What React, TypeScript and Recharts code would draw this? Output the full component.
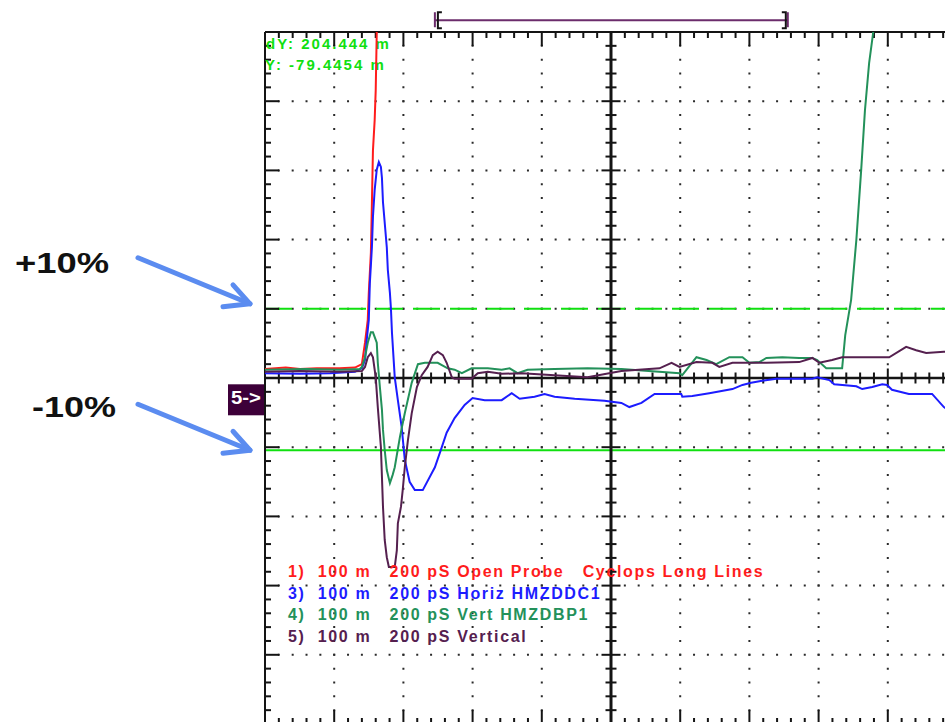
import { LineChart, Line, XAxis, YAxis, CartesianGrid, ReferenceLine, Legend } from "recharts";

// graticule: 10 x 10 divisions, 200 ps/div and 100 mV/div (ch5 offset -25 mV)
const X_DIVS = [0, 200, 400, 600, 800, 1000, 1200, 1400, 1600, 1800, 2000];
const Y_DIVS = [-475, -375, -275, -175, -75, 25, 125, 225, 325, 425, 525];
const X_MID = 1000;
const Y_MID = 25;
const X_MIN = 0;
const X_MAX = 2000;
const Y_MIN = -475;
const Y_MAX = 525;

const VOLTS_DIV = "100 m";
const TIME_DIV = "200 pS";

// cursor readouts (mV)
const CURSOR_Y = -79.4454;
const CURSOR_DY = 204.444;
const CURSOR_TOP = CURSOR_Y + CURSOR_DY;

// record window marker above the screen
const WINDOW_START = 491;
const WINDOW_END = 1511;
const WINDOW_LEVEL = 542;

// ch1 - open probe
const ch1Time = [0, 60, 101, 150, 216, 260, 280, 289, 297, 300, 306, 309, 312, 317, 320, 323, 340, 400, 2000];
const ch1Volts = [38, 40, 38, 39, 39, 40, 45, 76, 109, 148, 206, 278, 354, 398, 441, 525, 725, 925, 975];

// ch3 - Horiz HMZDDC1
const ch3Time = [
  0, 101, 188, 260, 280, 289, 294, 300, 303, 309, 312, 317, 323, 329, 335, 338, 341, 352, 355, 361,
  364, 367, 375, 384, 395, 404, 418, 433, 456, 491, 511, 525, 548, 577, 600, 635, 684, 713, 736, 779,
  808, 837, 895, 981, 1030, 1053, 1088, 1126, 1203, 1206, 1235, 1284, 1351, 1380, 1405, 1437, 1478, 1582, 1596, 1631,
  1645, 1709, 1726, 1755, 1784, 1798, 1812, 1861, 1928, 1962, 2000,
];
const ch3Volts = [
  32, 31, 32, 34, 39, 51, 80, 109, 162, 214, 258, 297, 326, 337, 330, 314, 279, 214, 181, 148,
  125, 90, 26, -7, -46, -93, -125, -137, -137, -104, -75, -54, -33, -14, -4, -7, -7, 3, -5, -2,
  2, -2, -5, -8, -11, -17, -11, 2, 2, -2, -1, 3, 9, 15, 18, 21, 24, 24, 26, 22,
  16, 13, 9, 12, 16, 15, 8, 2, 2, -17, -28,
];

// ch4 - Vert HMZDBP1
const ch4Time = [
  0, 120, 216, 274, 280, 289, 297, 306, 312, 323, 326, 332, 338, 341, 346, 352, 361, 369, 375, 390,
  404, 424, 442, 462, 499, 528, 548, 569, 597, 644, 684, 707, 730, 759, 837, 932, 1030, 1198, 1206, 1247,
  1276, 1304, 1342, 1380, 1400, 1429, 1449, 1495, 1544, 1582, 1596, 1622, 1659, 1668, 1677, 1694, 1709, 1723, 1734, 1746,
  1758, 1800, 2000,
];
const ch4Volts = [
  37, 38, 37, 38, 41, 55, 76, 91, 91, 76, 47, 12, -21, -50, -79, -108, -127, -115, -104, -60,
  -26, 18, 45, 47, 47, 39, 37, 32, 39, 39, 37, 39, 32, 37, 38, 39, 38, 32, 29, 55,
  51, 45, 55, 55, 47, 48, 54, 55, 54, 54, 51, 39, 39, 39, 87, 138, 224, 325, 412, 480,
  525, 725, 925,
];

// ch5 - Vertical
const ch5Time = [
  0, 100, 216, 280, 289, 297, 306, 312, 320, 326, 335, 341, 346, 352, 358, 375, 381, 384, 393, 398,
  404, 413, 424, 439, 453, 470, 485, 499, 514, 525, 540, 548, 597, 615, 644, 684, 742, 837, 932, 1030,
  1140, 1175, 1198, 1247, 1293, 1313, 1351, 1449, 1544, 1582, 1602, 1639, 1668, 1804, 1853, 1882, 1911, 1962, 2000,
];
const ch5Volts = [
  34, 35, 34, 35, 41, 55, 61, 55, 26, -17, -75, -161, -209, -234, -248, -248, -224, -185, -161, -137,
  -104, -65, -26, 12, 29, 41, 58, 63, 58, 47, 26, 24, 24, 32, 34, 31, 32, 29, 26, 35,
  39, 47, 41, 48, 47, 41, 47, 47, 48, 54, 47, 51, 55, 55, 70, 65, 61, 63, 63,
];

const toPoints = (t: number[], v: number[]) => t.map((x, i) => ({ t: x, v: v[i] }));

const SERIES = [
  { ch: 1, label: "Open Probe   Cyclops Long Lines", color: "#ff1c1c", data: toPoints(ch1Time, ch1Volts) },
  { ch: 3, label: "Horiz HMZDDC1", color: "#1c1cff", data: toPoints(ch3Time, ch3Volts) },
  { ch: 4, label: "Vert HMZDBP1", color: "#23915a", data: toPoints(ch4Time, ch4Volts) },
  { ch: 5, label: "Vertical", color: "#55204f", data: toPoints(ch5Time, ch5Volts) },
];

const FONT = "'Liberation Sans', Arial, sans-serif";
const ARROW = "#5b8cf0";
const CURSOR_GREEN = "#10e010";

// solid graticule line with its 1/5 division ticks (dir 0 = ticks both sides)
function Graticule(props: any) {
  const { x1, y1, x2, y2, dir, weight } = props;
  const vertical = Math.abs(x1 - x2) < 0.5;
  const start = vertical ? y1 : x1;
  const len = vertical ? y2 - y1 : x2 - x1;
  const ticks = [];
  for (let i = 0; i <= 50; i++) {
    const p = start + (len * i) / 50;
    const major = i % 5 === 0;
    let a = 0;
    let b = 0;
    if (dir === 0) {
      a = major ? -9.5 : -5.5;
      b = -a;
    } else {
      b = (major ? 14 : 6) * dir;
    }
    ticks.push(
      vertical ? (
        <line key={i} x1={x1 + a} x2={x1 + b} y1={p} y2={p} />
      ) : (
        <line key={i} x1={p} x2={p} y1={y1 + a} y2={y1 + b} />
      )
    );
  }
  return (
    <g stroke="#141414">
      <line x1={x1} y1={y1} x2={x2} y2={y2} strokeWidth={weight} />
      <g strokeWidth={2}>{ticks}</g>
    </g>
  );
}

function WindowBracket(props: any) {
  const { x1, y1, x2 } = props;
  const y = y1;
  return (
    <g fill="none" strokeWidth={2}>
      <line x1={x1} y1={y} x2={x2} y2={y} stroke="#6b2c6b" />
      <line x1={x1} y1={y - 8} x2={x1} y2={y + 7} stroke="#6b2c6b" />
      <line x1={x2} y1={y - 8} x2={x2} y2={y + 7} stroke="#6b2c6b" />
      <path d={`M${x1 + 7},${y - 8} H${x1 + 3} V${y + 8} H${x1 + 7}`} stroke="#141414" />
      <path d={`M${x2 - 6},${y - 8} H${x2 - 2} V${y + 8} H${x2 - 6}`} stroke="#141414" />
    </g>
  );
}

function PctNote(props: any) {
  const { viewBox, text, tipDy, textDx, textDy, textW } = props;
  const x = viewBox.x;
  const y = viewBox.y;
  const tipX = x - 15;
  const tipY = y + tipDy;
  return (
    <g>
      <text
        x={x + textDx}
        y={y + textDy}
        fontFamily={FONT}
        fontWeight="bold"
        fontSize={30}
        fill="#111"
        textLength={textW}
        lengthAdjust="spacingAndGlyphs"
      >
        {text}
      </text>
      <g stroke={ARROW} strokeWidth={5} strokeLinecap="round" strokeLinejoin="round" fill="none">
        <line x1={x - 127} y1={tipY - 46} x2={tipX} y2={tipY} />
        <polyline points={`${x - 32},${tipY - 19} ${tipX},${tipY} ${x - 42},${tipY + 3}`} />
      </g>
    </g>
  );
}

function GroundMarker(props: any) {
  const { viewBox } = props;
  const x = viewBox.x;
  const y = viewBox.y;
  return (
    <g>
      <rect x={x - 37} y={y - 11} width={37} height={31} fill="#3d0039" />
      <text x={x - 34} y={y + 9} fontFamily={FONT} fontWeight="bold" fontSize={18} fill="#fff" textLength={30} lengthAdjust="spacingAndGlyphs">
        5-&gt;
      </text>
    </g>
  );
}

function Readouts(props: any) {
  const { viewBox } = props;
  const x = viewBox.x + 1;
  const y = viewBox.y;
  const style = { fontFamily: FONT, fontWeight: "bold" as const, fontSize: 15, letterSpacing: 2 };
  return (
    <g fill={CURSOR_GREEN}>
      <text x={x} y={y + 17} style={style}>{`dY: ${CURSOR_DY} m`}</text>
      <text x={x - 1} y={y + 38} style={style}>{`Y: ${CURSOR_Y} m`}</text>
    </g>
  );
}

function LegendRows(props: any) {
  const payload = props.payload ?? [];
  return (
    <svg width={520} height={95} style={{ display: "block" }}>
      {payload.map((e: any, i: number) => (
        <text
          key={i}
          x={8}
          y={22 + i * 21.7}
          fill={e.color}
          fontFamily={FONT}
          fontWeight="bold"
          fontSize={16}
          style={{ whiteSpace: "pre", letterSpacing: 1.65 }}
        >
          {e.value}
        </text>
      ))}
    </svg>
  );
}

export default function App() {
  return (
    <div style={{ position: "absolute", left: 0, top: 0, width: 945, height: 722, overflow: "hidden", background: "#fff" }}>
      <LineChart width={962} height={728} margin={{ top: 32, right: 5, bottom: 4, left: 265 }}>
        <XAxis type="number" dataKey="t" domain={[X_MIN, X_MAX]} ticks={X_DIVS} allowDataOverflow hide />
        <YAxis type="number" dataKey="v" domain={[Y_MIN, Y_MAX]} ticks={Y_DIVS} allowDataOverflow hide />
        <CartesianGrid stroke="#2a2a2a" strokeWidth={2} strokeDasharray="2 11.84" strokeDashoffset={1} />

        <ReferenceLine y={CURSOR_TOP} stroke={CURSOR_GREEN} strokeWidth={2} strokeDasharray="27 10"
          label={<PctNote text="+10%" tipDy={-5} textDx={-250} textDy={-36} textW={94} />} />
        <ReferenceLine y={CURSOR_Y} stroke={CURSOR_GREEN} strokeWidth={2}
          label={<PctNote text="-10%" tipDy={0} textDx={-233} textDy={-33} textW={84} />} />
        <ReferenceLine y={0} stroke="none" label={<GroundMarker />} />

        <ReferenceLine x={X_MIN} shape={(p: any) => <Graticule {...p} dir={1} weight={2} />} />
        <ReferenceLine y={Y_MAX} shape={(p: any) => <Graticule {...p} dir={1} weight={2} />} label={<Readouts />} />
        <ReferenceLine y={Y_MIN} shape={(p: any) => <Graticule {...p} dir={-1} weight={2} />} />
        <ReferenceLine x={X_MID} shape={(p: any) => <Graticule {...p} dir={0} weight={3} />} />
        <ReferenceLine y={Y_MID} shape={(p: any) => <Graticule {...p} dir={0} weight={2.5} />} />
        <ReferenceLine
          segment={[{ x: WINDOW_START, y: WINDOW_LEVEL }, { x: WINDOW_END, y: WINDOW_LEVEL }]}
          ifOverflow="visible"
          shape={(p: any) => <WindowBracket {...p} />}
        />

        {SERIES.map((s) => (
          <Line
            key={s.ch}
            data={s.data}
            dataKey="v"
            name={`${s.ch})  ${VOLTS_DIV}   ${TIME_DIV} ${s.label}`}
            type="linear"
            stroke={s.color}
            strokeWidth={2}
            dot={false}
            activeDot={false}
            isAnimationActive={false}
          />
        ))}

        <Legend
          layout="vertical"
          align="center"
          verticalAlign="middle"
          wrapperStyle={{ left: 280, top: 555, width: 520 }}
          content={<LegendRows />}
        />
      </LineChart>
    </div>
  );
}
